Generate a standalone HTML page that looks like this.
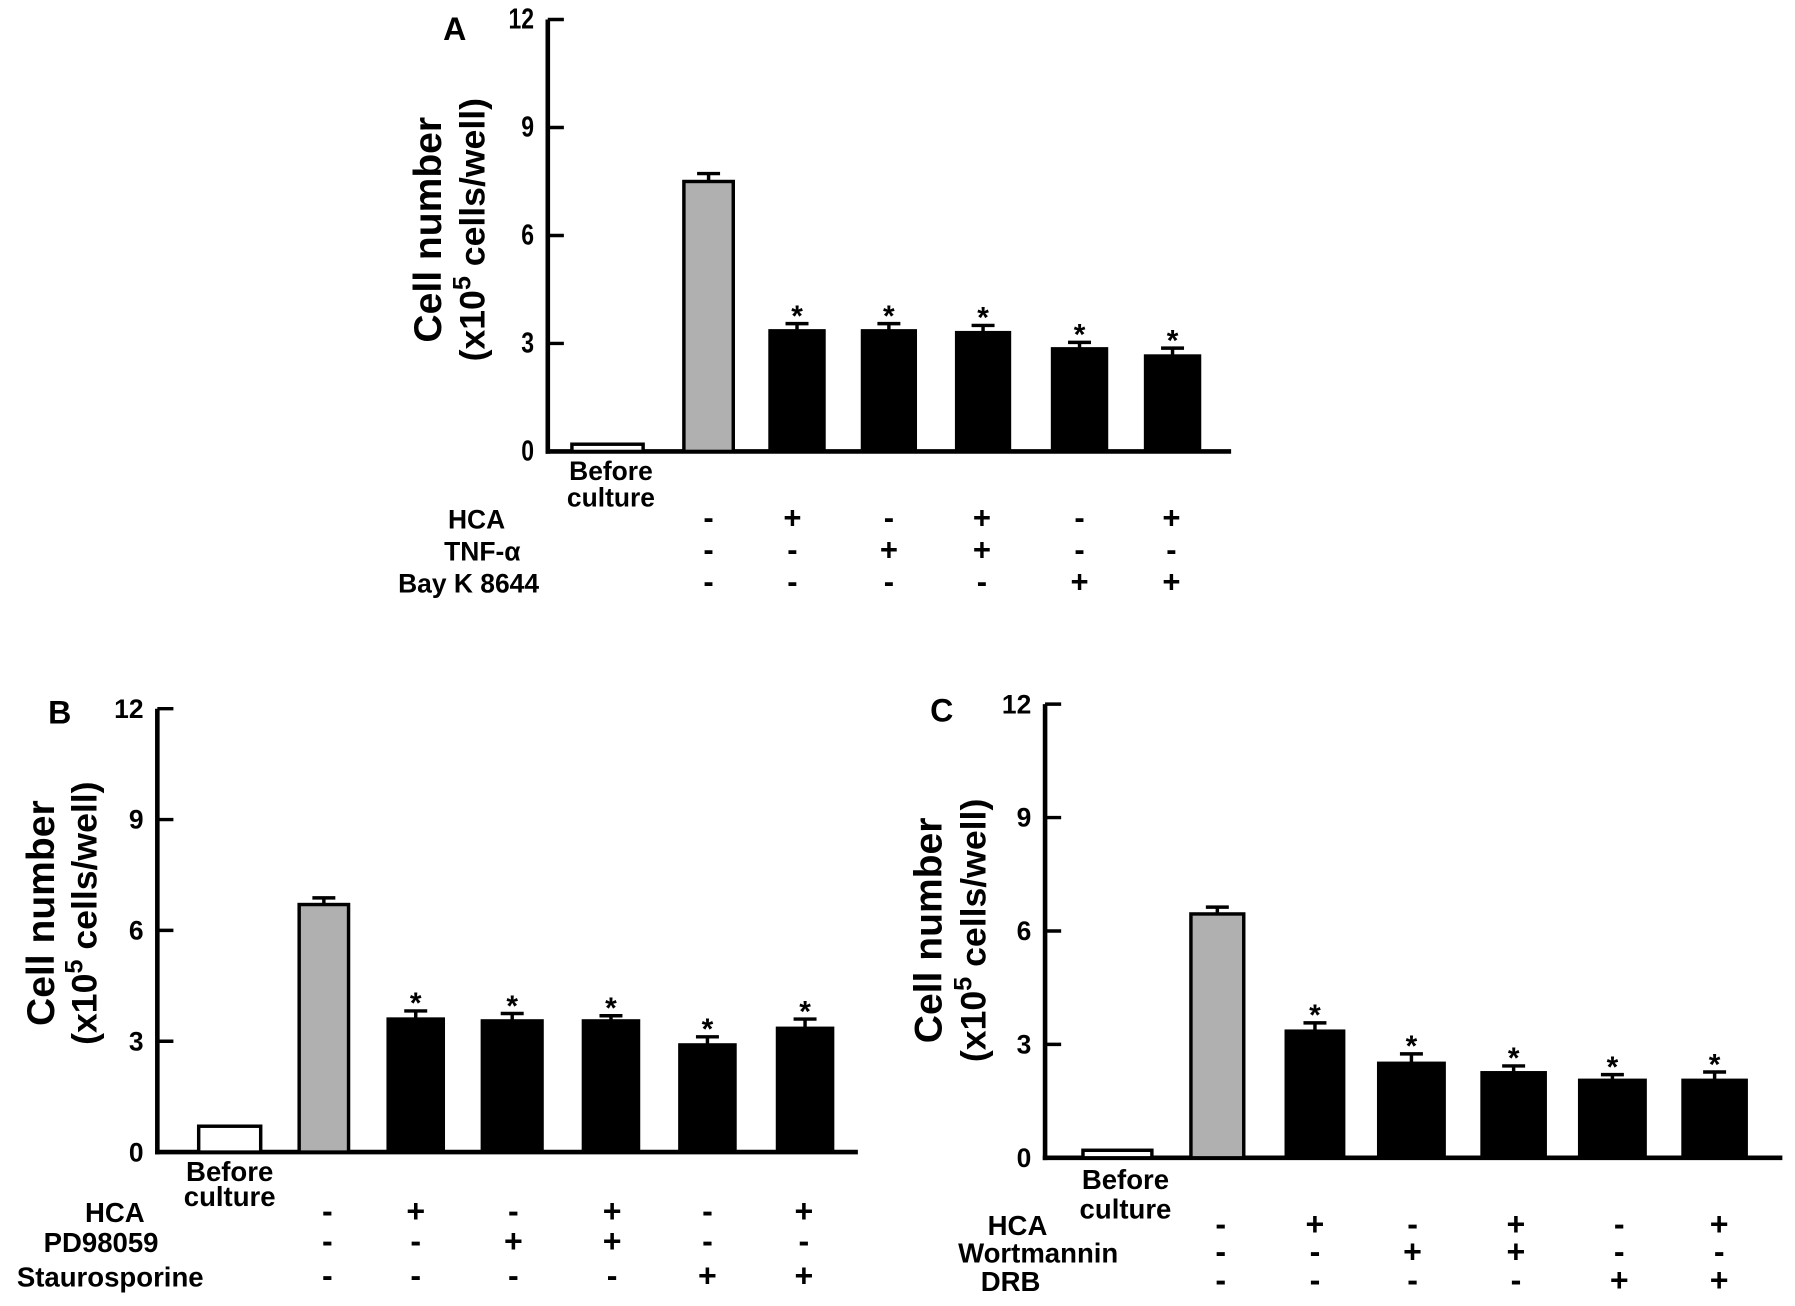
<!DOCTYPE html>
<html><head><meta charset="utf-8">
<style>
html,body{margin:0;padding:0;background:#fff;}
svg{display:block;}
text{font-family:"Liberation Sans",Arial,sans-serif;font-weight:bold;fill:#000;}
</style></head>
<body>
<svg id="fig" width="1795" height="1306" viewBox="0 0 1563 1137" preserveAspectRatio="none" xmlns="http://www.w3.org/2000/svg"></svg>
<script>
// Panel A data
const aValues = [0.2, 7.5, 3.35, 3.35, 3.3, 2.85, 2.65];
const aErrors = [0, 0.22, 0.2, 0.2, 0.2, 0.18, 0.22];
const aRowLabels = ["HCA", "TNF-\u03b1", "Bay K 8644"];
const aRows = [["-","+","-","+","-","+"],["-","-","+","+","-","-"],["-","-","-","-","+","+"]];
// Panel B data
const bValues = [0.7, 6.7, 3.6, 3.55, 3.55, 2.9, 3.35];
const bErrors = [0, 0.18, 0.22, 0.2, 0.14, 0.22, 0.25];
const bRowLabels = ["HCA", "PD98059", "Staurosporine"];
const bRows = [["-","+","-","+","-","+"],["-","-","+","+","-","-"],["-","-","-","-","+","+"]];
// Panel C data
const cValues = [0.2, 6.45, 3.35, 2.5, 2.25, 2.05, 2.05];
const cErrors = [0, 0.18, 0.22, 0.25, 0.18, 0.15, 0.22];
const cRowLabels = ["HCA", "Wortmannin", "DRB"];
const cRows = [["-","+","-","+","-","+"],["-","-","+","+","-","-"],["-","-","-","-","+","+"]];
const yTicks = [0, 3, 6, 9, 12];

const NS = "http://www.w3.org/2000/svg";
const svg = document.getElementById("fig");
function mk(tag, attrs, parent, txt){
  const e = document.createElementNS(NS, tag);
  for (const k in attrs) e.setAttribute(k, attrs[k]);
  if (txt !== undefined) e.textContent = txt;
  (parent || svg).appendChild(e);
  return e;
}

function panel(cfg){
  const g = mk("g", {});
  
  
  const y = v => cfg.y0 - (v / 12) * (cfg.y0 - cfg.y12);
  const ya = mk("line", {x1:cfg.ax, y1:cfg.y12, x2:cfg.ax, y2:cfg.y0+2, stroke:"#000","stroke-width":4}, g);
  
  
  const xa = mk("line", {x1:cfg.ax-2, y1:cfg.y0, x2:cfg.axEnd, y2:cfg.y0, stroke:"#000","stroke-width":4}, g);
  
  
  yTicks.forEach(t => {
    mk("line", {x1:cfg.ax, y1:y(t), x2:cfg.ax+14, y2:y(t), stroke:"#000","stroke-width":3}, g);
    const tl = mk("text", {x:cfg.ax-12, y:y(t)+8, "text-anchor":"end","font-size":cfg.tickFs, transform:cfg.cond?`translate(${cfg.ax-12},0) scale(0.8,1) translate(${-(cfg.ax-12)},0)`:""}, g, String(t));
    
    
  });
  const pl = mk("text", {x:cfg.letterX, y:cfg.letterY, "font-size":28, "text-anchor":"middle"}, g, cfg.id.toUpperCase());
  
  
  const tt = mk("text", {x:0, y:0, "font-size":cfg.titleFs, "text-anchor":"middle", transform:`translate(${cfg.t1x},${cfg.tcy}) rotate(-90)`}, g, "Cell number");
  
  
  const t2 = mk("text", {x:0, y:0, "font-size":cfg.titleFs-3, "text-anchor":"middle", transform:`translate(${cfg.t2x},${cfg.tcy}) rotate(-90)`}, g);
  
  
  mk("tspan", {}, t2, "(x10");
  mk("tspan", {"baseline-shift":"super","font-size":cfg.titleFs-12}, t2, "5");
  mk("tspan", {}, t2, " cells/well)");
  cfg.values.forEach((v, i) => {
    const cx = cfg.barX[i], w = cfg.barW[i];
    const fill = i === 0 ? "#fff" : (i === 1 ? "#b0b0b0" : "#000");
    const r = mk("rect", {x:cx - w/2, y:y(v), width:w, height:cfg.y0 - y(v), fill:fill, stroke:"#000", "stroke-width":3}, g);
    
    
    const e = cfg.errors[i];
    if (e > 0) {
      const eb = mk("path", {d:`M${cx} ${y(v)} V${y(v+e)} M${cx-10} ${y(v+e)} H${cx+10}`, stroke:"#000","stroke-width":3, fill:"none"}, g);
      
      
    }
    if (i >= 2) {
      const st = mk("text", {x:cx, y:y(v+e)+2, "font-size":26, "text-anchor":"middle"}, g, "*");
      
      
    }
  });
  const bc = mk("text", {x:cfg.bcX, y:cfg.bcY, "font-size":cfg.lblFs, "text-anchor":"middle"}, g);
  
  
  mk("tspan", {x:cfg.bcX, dy:0}, bc, "Before");
  mk("tspan", {x:cfg.bcX, dy:cfg.bcDy}, bc, "culture");
  cfg.rowLabels.forEach((lab, r) => {
    const rl = mk("text", {x:cfg.rowLabelX[r], y:cfg.rowY[r], "font-size":cfg.lblFs, "text-anchor":"middle"}, g, lab);
    
    
    cfg.rows[r].forEach((s, c) => {
      const sg = mk("text", {x:cfg.colX[c], y:cfg.rowY[r], "font-size":cfg.lblFs+4, "text-anchor":"middle"}, g, s);
      
      
    });
  });
}

panel({id:"a", ax:477, axEnd:1072, y12:17, y0:393, values:aValues, errors:aErrors,
  barX:[529,617,694,774,856,940,1021], barW:[62,43,47,46,46,47,47],
  tickFs:25, cond:true, letterX:396, letterY:35, titleFs:34, t1x:384, t2x:422, tcy:200,
  bcX:532, bcY:418, bcDy:23, lblFs:23, colX:[617,690,774,855,940,1020],
  rowLabels:aRowLabels, rows:aRows, rowLabelX:[415,420,408], rowY:[460,488,516]});
panel({id:"b", ax:137, axEnd:747, y12:617, y0:1003, values:bValues, errors:bErrors,
  barX:[200,282,362,446,532,616,701], barW:[54,43,48,52,48,48,48],
  tickFs:23, cond:false, letterX:52, letterY:630, titleFs:34, t1x:47, t2x:84, tcy:795,
  bcX:200, bcY:1028, bcDy:22, lblFs:24, colX:[285,362,447,533,616,700],
  rowLabels:bRowLabels, rows:bRows, rowLabelX:[100,88,96], rowY:[1064,1090,1120]});
panel({id:"c", ax:910, axEnd:1552, y12:613, y0:1008, values:cValues, errors:cErrors,
  barX:[973,1060,1145,1229,1318,1404,1493], barW:[60,46,50,57,55,57,55],
  tickFs:23, cond:false, letterX:820, letterY:628, titleFs:34, t1x:820, t2x:858, tcy:810,
  bcX:980, bcY:1035, bcDy:26, lblFs:24, colX:[1063,1145,1230,1320,1410,1497],
  rowLabels:cRowLabels, rows:cRows, rowLabelX:[886,904,880], rowY:[1075,1099,1124]});
</script>
</body></html>
